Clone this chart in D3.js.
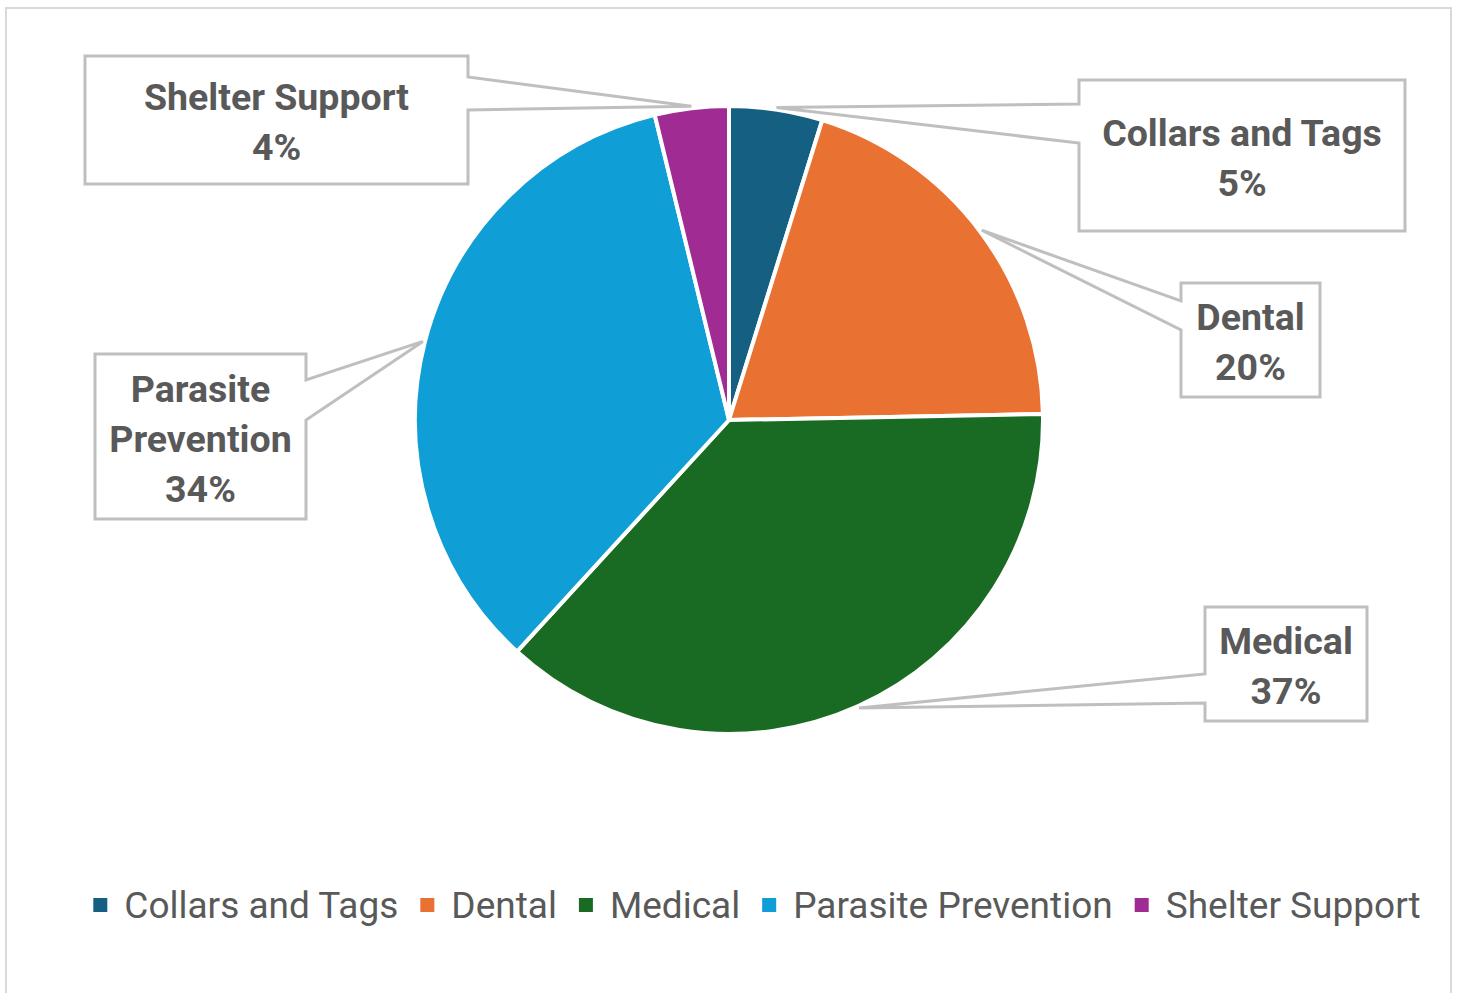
<!DOCTYPE html>
<html>
<head>
<meta charset="utf-8">
<script src="https://cdn.jsdelivr.net/npm/d3@7"></script>
<style>
  html, body { margin: 0; padding: 0; background: #fff; }
  svg { display: block; }
</style>
</head>
<body>
<svg width="1458" height="993"></svg>
<script>
(function () {
    'use strict';

    // data
    var categories = ['Collars and Tags', 'Dental', 'Medical', 'Parasite Prevention', 'Shelter Support'];
    var shares = [4.8, 19.9, 37.1, 34.4, 3.8];
    var colours = ['#156082', '#E97132', '#196B24', '#0F9ED5', '#A02B93'];
    var labelLines = [['Collars and Tags'], ['Dental'], ['Medical'], ['Parasite', 'Prevention'], ['Shelter Support']];

    var svg = d3.select('svg');
    var width = +svg.attr('width');
    var height = +svg.attr('height');

    // outer chart frame
    svg.append('rect')
        .attr('x', 6).attr('y', 8)
        .attr('width', 1445).attr('height', height + 10)
        .attr('fill', '#fff')
        .attr('stroke', '#d9d9d9')
        .attr('stroke-width', 2);

    var cx = 729;
    var cy = 420;
    var r = 314;

    var total = d3.sum(shares);
    var data = categories.map(function (c, i) {
        return { name: c, value: shares[i], colour: colours[i], lines: labelLines[i] };
    });

    var pie = d3.pie().sort(null).value(function (d) { return d.value; });
    var arc = d3.arc().innerRadius(0).outerRadius(r);
    var edge = d3.arc().innerRadius(r + 2).outerRadius(r + 2);

    var g = svg.append('g').attr('transform', 'translate(' + cx + ',' + cy + ')');
    var arcs = pie(data);

    g.selectAll('path.slice')
        .data(arcs)
        .enter().append('path')
        .attr('class', 'slice')
        .attr('d', arc)
        .attr('fill', function (d) { return d.data.colour; })
        .attr('stroke', '#fff')
        .attr('stroke-width', 4)
        .attr('stroke-linejoin', 'round');

    // callout boxes: [x0, y0, x1, y1, side, notchTop, notchBottom]
    var boxes = [
        [1079, 80, 1405, 231, 'left', 104, 143],
        [1181, 283, 1320, 397, 'left', 301, 330],
        [1205, 607, 1367, 721, 'left', 674, 703],
        [95, 354, 306, 519, 'right', 380, 420],
        [85, 56, 468, 184, 'right', 77, 110]
    ];

    var labels = svg.append('g');
    arcs.forEach(function (a, i) {
        var b = boxes[i];
        var tip = edge.centroid(a);
        var tx = cx + tip[0], ty = cy + tip[1];
        var p = d3.path();
        p.moveTo(b[0], b[1]);
        p.lineTo(b[2], b[1]);
        if (b[4] === 'right') {
            p.lineTo(b[2], b[5]);
            p.lineTo(tx, ty);
            p.lineTo(b[2], b[6]);
        }
        p.lineTo(b[2], b[3]);
        p.lineTo(b[0], b[3]);
        if (b[4] === 'left') {
            p.lineTo(b[0], b[6]);
            p.lineTo(tx, ty);
            p.lineTo(b[0], b[5]);
        }
        p.closePath();
        labels.append('path')
            .attr('d', p.toString())
            .attr('fill', '#fff')
            .attr('stroke', '#bfbfbf')
            .attr('stroke-width', 3)
            .attr('stroke-linejoin', 'miter');

        var lines = a.data.lines.concat([Math.round(a.data.value / total * 100) + '%']);
        var mx = (b[0] + b[2]) / 2;
        var my = (b[1] + b[3]) / 2 + 2;
        var lh = 50;
        lines.forEach(function (t, k) {
            labels.append('text')
                .attr('x', mx)
                .attr('y', my + (k - (lines.length - 1) / 2) * lh)
                .attr('text-anchor', 'middle')
                .attr('dominant-baseline', 'central')
                .attr('font-family', 'Roboto, sans-serif')
                .attr('font-weight', 'bold')
                .attr('font-size', 37.5)
                .attr('fill', '#595959')
                .text(t);
        });
    });

    // legend
    var legend = svg.append('g');
    var items = legend.selectAll('g.item')
        .data(data)
        .enter().append('g')
        .attr('class', 'item');
    items.append('rect')
        .attr('width', 14).attr('height', 14)
        .attr('y', -7)
        .attr('fill', function (d) { return d.colour; });
    items.append('text')
        .attr('x', 31)
        .attr('dominant-baseline', 'central')
        .attr('font-family', 'Roboto, sans-serif')
        .attr('font-size', 37)
        .attr('fill', '#595959')
        .text(function (d) { return d.name; });

    var x = 0;
    var offsets = [];
    items.each(function () {
        var w = d3.select(this).select('text').node().getComputedTextLength();
        offsets.push(x);
        x += 31 + w + 22;
    });
    var legendW = x - 22;
    var lx = 757 - legendW / 2;
    items.attr('transform', function (d, i) { return 'translate(' + (lx + offsets[i]) + ',905)'; });
}());
</script>
</body>
</html>
